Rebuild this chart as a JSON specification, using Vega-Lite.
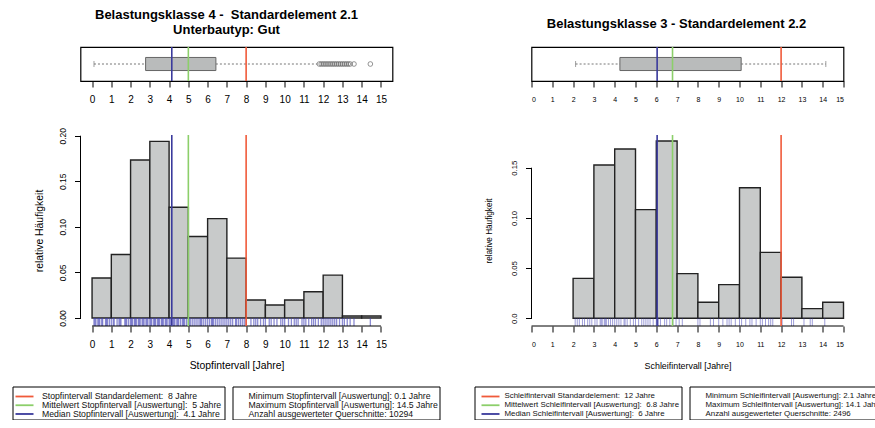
{
  "$schema": "https://vega.github.io/schema/vega-lite/v6.json",
  "background": "white",
  "padding": {"left": 11.5, "top": 8, "right": 0, "bottom": 0},
  "config": {
    "font": "Liberation Sans",
    "view": {"stroke": null},
    "axis": {"domain": false, "grid": false, "labelOverlap": false, "tickColor": "#000", "labelColor": "#000", "titleColor": "#000", "titleFontWeight": "normal", "labelFont": "Liberation Sans", "titleFont": "Liberation Sans", "tickWidth": 1},
    "axisX": {"tickCount": 16},
    "title": {"font": "Liberation Sans", "fontWeight": "bold", "color": "#000"}
  },
  "datasets": {
    "leftHist": [
      {"b0": 0, "b1": 1, "freq": 0.0438}, {"b0": 1, "b1": 2, "freq": 0.0697}, {"b0": 2, "b1": 3, "freq": 0.1734},
      {"b0": 3, "b1": 4, "freq": 0.1938}, {"b0": 4, "b1": 5, "freq": 0.1215}, {"b0": 5, "b1": 6, "freq": 0.0894},
      {"b0": 6, "b1": 7, "freq": 0.109}, {"b0": 7, "b1": 8, "freq": 0.0657}, {"b0": 8, "b1": 9, "freq": 0.0197},
      {"b0": 9, "b1": 10, "freq": 0.0142}, {"b0": 10, "b1": 11, "freq": 0.0197}, {"b0": 11, "b1": 12, "freq": 0.0288},
      {"b0": 12, "b1": 13, "freq": 0.047}, {"b0": 13, "b1": 14, "freq": 0.0022}, {"b0": 14, "b1": 15, "freq": 0.0022}
    ],
    "rightHist": [
      {"b0": 2, "b1": 3, "freq": 0.0398}, {"b0": 3, "b1": 4, "freq": 0.1527}, {"b0": 4, "b1": 5, "freq": 0.1686},
      {"b0": 5, "b1": 6, "freq": 0.1082}, {"b0": 6, "b1": 7, "freq": 0.1766}, {"b0": 7, "b1": 8, "freq": 0.0445},
      {"b0": 8, "b1": 9, "freq": 0.0159}, {"b0": 9, "b1": 10, "freq": 0.0335}, {"b0": 10, "b1": 11, "freq": 0.130},
      {"b0": 11, "b1": 12, "freq": 0.0657}, {"b0": 12, "b1": 13, "freq": 0.0408}, {"b0": 13, "b1": 14, "freq": 0.0096},
      {"b0": 14, "b1": 15, "freq": 0.0159}
    ],
    "leftRug": [
      {"v":0.1},{"v":0.15},{"v":0.2},{"v":0.3},{"v":0.35},{"v":0.4},{"v":0.5},{"v":0.55},{"v":0.7},{"v":0.75},{"v":0.8},{"v":0.9},{"v":1.0},{"v":1.1},{"v":1.15},{"v":1.3},{"v":1.4},{"v":1.45},{"v":1.5},{"v":1.7},{"v":1.75},{"v":1.8},{"v":1.9},{"v":2.0},{"v":2.05},{"v":2.1},{"v":2.2},{"v":2.25},{"v":2.3},{"v":2.4},{"v":2.45},{"v":2.5},{"v":2.6},{"v":2.65},{"v":2.7},{"v":2.8},{"v":2.85},{"v":2.9},{"v":3.0},{"v":3.05},{"v":3.1},{"v":3.2},{"v":3.25},{"v":3.3},{"v":3.4},{"v":3.45},{"v":3.5},{"v":3.6},{"v":3.65},{"v":3.7},{"v":3.8},{"v":3.85},{"v":3.9},{"v":4.0},{"v":4.05},{"v":4.1},{"v":4.2},{"v":4.25},{"v":4.3},{"v":4.4},{"v":4.45},{"v":4.5},{"v":4.6},{"v":4.7},{"v":4.75},{"v":4.8},{"v":4.9},{"v":5.0},{"v":5.05},{"v":5.1},{"v":5.2},{"v":5.3},{"v":5.4},{"v":5.5},{"v":5.6},{"v":5.65},{"v":5.7},{"v":5.8},{"v":5.9},{"v":6.0},{"v":6.1},{"v":6.2},{"v":6.25},{"v":6.3},{"v":6.4},{"v":6.5},{"v":6.6},{"v":6.7},{"v":6.8},{"v":6.9},{"v":7.0},{"v":7.1},{"v":7.2},{"v":7.3},{"v":7.45},{"v":7.5},{"v":7.6},{"v":7.7},{"v":7.8},{"v":7.9},{"v":8.0},{"v":8.25},{"v":8.4},{"v":8.5},{"v":8.6},{"v":8.75},{"v":8.9},{"v":9.0},{"v":9.2},{"v":9.3},{"v":9.45},{"v":9.6},{"v":9.8},{"v":9.9},{"v":10.0},{"v":10.2},{"v":10.35},{"v":10.5},{"v":10.6},{"v":10.7},{"v":10.9},{"v":11.0},{"v":11.1},{"v":11.25},{"v":11.4},{"v":11.5},{"v":11.6},{"v":11.75},{"v":11.9},{"v":12.0},{"v":12.1},{"v":12.2},{"v":12.3},{"v":12.4},{"v":12.5},{"v":12.6},{"v":12.7},{"v":12.85},{"v":13.0},{"v":13.1},{"v":13.25},{"v":13.4},{"v":13.6},{"v":14.45}
    ],
    "rightRug": [
      {"v":2.1},{"v":2.2},{"v":2.3},{"v":2.45},{"v":2.55},{"v":2.7},{"v":2.8},{"v":2.9},{"v":3.05},{"v":3.15},{"v":3.3},{"v":3.35},{"v":3.4},{"v":3.5},{"v":3.55},{"v":3.6},{"v":3.7},{"v":3.8},{"v":3.9},{"v":4.0},{"v":4.1},{"v":4.2},{"v":4.3},{"v":4.45},{"v":4.5},{"v":4.6},{"v":4.75},{"v":4.9},{"v":5.0},{"v":5.15},{"v":5.3},{"v":5.4},{"v":5.5},{"v":5.6},{"v":5.7},{"v":5.85},{"v":6.0},{"v":6.1},{"v":6.2},{"v":6.4},{"v":6.5},{"v":6.65},{"v":6.8},{"v":6.95},{"v":7.1},{"v":7.25},{"v":8.0},{"v":8.1},{"v":8.6},{"v":8.75},{"v":9.0},{"v":9.2},{"v":9.4},{"v":9.5},{"v":9.6},{"v":9.8},{"v":10.0},{"v":10.1},{"v":10.3},{"v":10.5},{"v":10.6},{"v":10.8},{"v":11.0},{"v":11.1},{"v":11.25},{"v":11.4},{"v":11.5},{"v":11.6},{"v":12.05},{"v":12.5},{"v":12.6},{"v":13.1},{"v":13.4},{"v":13.5},{"v":14.1}
    ],
    "leftLines": [{"key": "std", "v": 8}, {"key": "mean", "v": 5}, {"key": "median", "v": 4.14}],
    "rightLines": [{"key": "std", "v": 12}, {"key": "mean", "v": 6.78}, {"key": "median", "v": 6.04}],
    "leftBox": [{"g": "a", "lo": 0.1, "q1": 2.78, "q3": 6.43, "hi": 11.7}],
    "rightBox": [{"g": "a", "lo": 2.12, "q1": 4.25, "q3": 10.08, "hi": 14.15}],
    "leftOut": [
      {"g":"a","v":11.8},{"g":"a","v":11.9},{"g":"a","v":12.0},{"g":"a","v":12.1},{"g":"a","v":12.2},{"g":"a","v":12.3},{"g":"a","v":12.4},{"g":"a","v":12.5},{"g":"a","v":12.6},{"g":"a","v":12.7},{"g":"a","v":12.8},{"g":"a","v":12.9},{"g":"a","v":13.0},{"g":"a","v":13.1},{"g":"a","v":13.2},{"g":"a","v":13.3},{"g":"a","v":13.4},{"g":"a","v":13.6},{"g":"a","v":14.45}
    ],
    "legL1": [
      {"row": 1, "key": "std", "label": "Stopfintervall Standardelement: \u00a08 Jahre"},
      {"row": 2, "key": "mean", "label": "Mittelwert Stopfintervall [Auswertung]: \u00a05 Jahre"},
      {"row": 3, "key": "median", "label": "Median Stopfintervall [Auswertung]: \u00a04.1 Jahre"}
    ],
    "legL2": [
      {"row": 1, "label": "Minimum Stopfintervall [Auswertung]: 0.1 Jahre"},
      {"row": 2, "label": "Maximum Stopfintervall [Auswertung]: 14.5 Jahre"},
      {"row": 3, "label": "Anzahl ausgewerteter Querschnitte: 10294"}
    ],
    "legR1": [
      {"row": 1, "key": "std", "label": "Schleifintervall Standardelement: \u00a012 Jahre"},
      {"row": 2, "key": "mean", "label": "Mittelwert Schleifintervall [Auswertung]: \u00a06.8 Jahre"},
      {"row": 3, "key": "median", "label": "Median Schleifintervall [Auswertung]: \u00a06 Jahre"}
    ],
    "legR2": [
      {"row": 1, "label": "Minimum Schleifintervall [Auswertung]: 2.1 Jahre"},
      {"row": 2, "label": "Maximum Schleifintervall [Auswertung]: 14.1 Jahre"},
      {"row": 3, "label": "Anzahl ausgewerteter Querschnitte: 2496"}
    ],
    "one": [{}]
  },
  "spacing": 14.5,
  "vconcat": [
    {
      "spacing": 10,
      "hconcat": [
        {"width": 10.75, "height": 10, "data": {"name": "one"}, "mark": {"type": "point", "opacity": 0}, "encoding": {}},
        {
          "spacing": 91,
          "hconcat": [
            {
              "bounds": "flush",
              "spacing": 54,
              "vconcat": [
                {
                  "width": 312, "height": 34,
                  "view": {"stroke": "#000", "strokeWidth": 1.2},
                  "title": {"text": ["Belastungsklasse 4 - \u00a0Standardelement 2.1", "Unterbautyp: Gut"], "fontSize": 13, "lineHeight": 14.5, "anchor": "middle", "frame": "group", "baseline": "alphabetic", "offset": -0.7, "dx": -10},
                  "layer": [
                    {"data": {"name": "leftBox"}, "mark": {"type": "rule", "strokeDash": [2, 2], "color": "#777", "strokeWidth": 1},
                     "encoding": {
                       "x": {"field": "lo", "type": "quantitative", "scale": {"domain": [-0.6, 15.6], "nice": false, "zero": false},
                             "axis": {"values": [0,1,2,3,4,5,6,7,8,9,10,11,12,13,14,15], "title": null, "labelFontSize": 10, "tickSize": 6, "labelPadding": 12, "labelBaseline": "middle"}},
                       "x2": {"field": "q1"},
                       "y": {"field": "g", "type": "nominal", "scale": {"paddingOuter": 0.8, "paddingInner": 0}, "axis": null}}},
                    {"data": {"name": "leftBox"}, "mark": {"type": "rule", "strokeDash": [2, 2], "color": "#777", "strokeWidth": 1},
                     "encoding": {"x": {"field": "q3", "type": "quantitative"}, "x2": {"field": "hi"}, "y": {"field": "g", "type": "nominal"}}},
                    {"data": {"name": "leftBox"}, "mark": {"type": "tick", "orient": "vertical", "size": 6, "thickness": 1, "color": "#777"},
                     "encoding": {"x": {"field": "lo", "type": "quantitative"}, "y": {"field": "g", "type": "nominal"}}},
                    {"data": {"name": "leftBox"}, "mark": {"type": "rect", "fill": "#b9bbbb", "stroke": "#666", "strokeWidth": 1},
                     "encoding": {"x": {"field": "q1", "type": "quantitative"}, "x2": {"field": "q3"}, "y": {"field": "g", "type": "nominal"}}},
                    {"data": {"name": "leftOut"}, "mark": {"type": "point", "filled": false, "size": 22, "color": "#444", "strokeWidth": 0.8},
                     "encoding": {"x": {"field": "v", "type": "quantitative"}, "y": {"field": "g", "type": "nominal"}}},
                    {"data": {"name": "leftLines"}, "mark": {"type": "rule", "strokeWidth": 1.6},
                     "encoding": {"x": {"field": "v", "type": "quantitative"},
                                  "color": {"field": "key", "type": "nominal", "scale": {"domain": ["std", "mean", "median"], "range": ["#f05a3a", "#8ccf6a", "#3a3a9c"]}, "legend": null}}}
                  ]
                },
                {
                  "width": 312, "height": 191,
                  "view": {"stroke": null},
                  "layer": [
                    {"data": {"name": "leftHist"}, "mark": {"type": "rect", "fill": "#c8caca", "stroke": "#222", "strokeWidth": 1.4},
                     "encoding": {
                       "x": {"field": "b0", "type": "quantitative", "scale": {"domain": [-0.6, 15.6], "nice": false, "zero": false},
                             "axis": {"values": [0,1,2,3,4,5,6,7,8,9,10,11,12,13,14,15], "title": "Stopfintervall [Jahre]", "labelFontSize": 10, "tickSize": 6, "labelPadding": 12, "labelBaseline": "middle", "titleFontSize": 10.4, "titlePadding": 11}},
                       "x2": {"field": "b1"},
                       "y": {"field": "freq", "type": "quantitative", "scale": {"domain": [-0.0088, 0.2008], "nice": false, "zero": false},
                             "axis": {"values": [0, 0.05, 0.1, 0.15, 0.2], "format": ".2f", "title": "relative Häufigkeit", "labelAngle": -90, "labelAlign": "center", "labelBaseline": "middle", "labelFontSize": 8.5, "tickSize": 6, "labelPadding": 12, "titleFontSize": 10.4, "titlePadding": 14.5}},
                       "y2": {"datum": 0}}},
                    {"data": {"name": "leftRug"}, "mark": {"type": "rule", "color": "#3f3fb5", "opacity": 0.6, "strokeWidth": 1.3},
                     "encoding": {"x": {"field": "v", "type": "quantitative"}, "y": {"datum": -0.0088}, "y2": {"datum": 0}}},
                    {"data": {"name": "one"}, "mark": {"type": "rule", "color": "#000", "strokeWidth": 1},
                     "encoding": {"x": {"datum": 0}, "x2": {"datum": 15}, "y": {"datum": -0.0088}}},
                    {"data": {"name": "one"}, "mark": {"type": "rule", "color": "#000", "strokeWidth": 1},
                     "encoding": {"x": {"datum": -0.6}, "y": {"datum": 0}, "y2": {"datum": 0.2}}},
                    {"data": {"name": "leftLines"}, "mark": {"type": "rule", "strokeWidth": 1.6},
                     "encoding": {"x": {"field": "v", "type": "quantitative"},
                                  "color": {"field": "key", "type": "nominal", "scale": {"domain": ["std", "mean", "median"], "range": ["#f05a3a", "#8ccf6a", "#3a3a9c"]}, "legend": null}}}
                  ]
                }
              ]
            },
            {
              "bounds": "flush",
              "spacing": 54,
              "vconcat": [
                {
                  "width": 312, "height": 34,
                  "view": {"stroke": "#000", "strokeWidth": 1.2},
                  "title": {"text": "Belastungsklasse 3 - Standardelement 2.2", "fontSize": 13, "anchor": "middle", "frame": "group", "baseline": "alphabetic", "offset": 5, "dx": -11},
                  "layer": [
                    {"data": {"name": "rightBox"}, "mark": {"type": "rule", "strokeDash": [2, 2], "color": "#777", "strokeWidth": 1},
                     "encoding": {
                       "x": {"field": "lo", "type": "quantitative", "scale": {"domain": [0, 15], "nice": false, "zero": false},
                             "axis": {"values": [0,1,2,3,4,5,6,7,8,9,10,11,12,13,14,15], "title": null, "labelFontSize": 7, "tickSize": 6, "labelPadding": 12, "labelBaseline": "middle"}},
                       "x2": {"field": "q1"},
                       "y": {"field": "g", "type": "nominal", "scale": {"paddingOuter": 0.8, "paddingInner": 0}, "axis": null}}},
                    {"data": {"name": "rightBox"}, "mark": {"type": "rule", "strokeDash": [2, 2], "color": "#777", "strokeWidth": 1},
                     "encoding": {"x": {"field": "q3", "type": "quantitative"}, "x2": {"field": "hi"}, "y": {"field": "g", "type": "nominal"}}},
                    {"data": {"name": "rightBox"}, "mark": {"type": "tick", "orient": "vertical", "size": 6, "thickness": 1, "color": "#777"},
                     "encoding": {"x": {"field": "lo", "type": "quantitative"}, "y": {"field": "g", "type": "nominal"}}},
                    {"data": {"name": "rightBox"}, "mark": {"type": "tick", "orient": "vertical", "size": 6, "thickness": 1, "color": "#777"},
                     "encoding": {"x": {"field": "hi", "type": "quantitative"}, "y": {"field": "g", "type": "nominal"}}},
                    {"data": {"name": "rightBox"}, "mark": {"type": "rect", "fill": "#b9bbbb", "stroke": "#666", "strokeWidth": 1},
                     "encoding": {"x": {"field": "q1", "type": "quantitative"}, "x2": {"field": "q3"}, "y": {"field": "g", "type": "nominal"}}},
                    {"data": {"name": "rightLines"}, "mark": {"type": "rule", "strokeWidth": 1.6},
                     "encoding": {"x": {"field": "v", "type": "quantitative"},
                                  "color": {"field": "key", "type": "nominal", "scale": {"domain": ["std", "mean", "median"], "range": ["#f05a3a", "#8ccf6a", "#3a3a9c"]}, "legend": null}}}
                  ]
                },
                {
                  "width": 312, "height": 191,
                  "view": {"stroke": null},
                  "layer": [
                    {"data": {"name": "rightHist"}, "mark": {"type": "rect", "fill": "#c8caca", "stroke": "#222", "strokeWidth": 1.4},
                     "encoding": {
                       "x": {"field": "b0", "type": "quantitative", "scale": {"domain": [0, 15], "nice": false, "zero": false},
                             "axis": {"values": [0,1,2,3,4,5,6,7,8,9,10,11,12,13,14,15], "title": "Schleifintervall [Jahre]", "labelFontSize": 7, "tickSize": 6, "labelPadding": 12, "labelBaseline": "middle", "titleFontSize": 8.9, "titlePadding": 14.8}},
                       "x2": {"field": "b1"},
                       "y": {"field": "freq", "type": "quantitative", "scale": {"domain": [-0.0077, 0.1826], "nice": false, "zero": false},
                             "axis": {"values": [0, 0.05, 0.1, 0.15], "labelExpr": "datum.value == 0 ? '0.0' : format(datum.value, '.2f')", "title": "relative Häufigkeit", "labelAngle": -90, "labelAlign": "center", "labelBaseline": "middle", "labelFontSize": 7.7, "tickSize": 6, "labelPadding": 11, "titleFontSize": 8.2, "titlePadding": 17}},
                       "y2": {"datum": 0}}},
                    {"data": {"name": "rightRug"}, "mark": {"type": "rule", "color": "#3f3fb5", "opacity": 0.5, "strokeWidth": 1},
                     "encoding": {"x": {"field": "v", "type": "quantitative"}, "y": {"datum": -0.0077}, "y2": {"datum": 0}}},
                    {"data": {"name": "one"}, "mark": {"type": "rule", "color": "#000", "strokeWidth": 1},
                     "encoding": {"x": {"datum": 0}, "x2": {"datum": 15}, "y": {"datum": -0.0077}}},
                    {"data": {"name": "one"}, "mark": {"type": "rule", "color": "#000", "strokeWidth": 1},
                     "encoding": {"x": {"datum": 0}, "y": {"datum": 0}, "y2": {"datum": 0.15}}},
                    {"data": {"name": "rightLines"}, "mark": {"type": "rule", "strokeWidth": 1.6},
                     "encoding": {"x": {"field": "v", "type": "quantitative"},
                                  "color": {"field": "key", "type": "nominal", "scale": {"domain": ["std", "mean", "median"], "range": ["#f05a3a", "#8ccf6a", "#3a3a9c"]}, "legend": null}}}
                  ]
                }
              ]
            }
          ]
        }
      ]
    },
    {
      "spacing": 33,
      "hconcat": [
        {
          "bounds": "flush",
          "spacing": 8,
          "hconcat": [
            {
              "width": 212, "height": 33,
              "view": {"stroke": "#000", "strokeWidth": 1},
              "data": {"name": "legL1"},
              "layer": [
                {"mark": {"type": "rule", "strokeWidth": 1.8},
                 "encoding": {
                   "x": {"datum": 3, "type": "quantitative", "scale": {"domain": [0, 212], "nice": false, "zero": false}, "axis": null},
                   "x2": {"datum": 21},
                   "y": {"field": "row", "type": "quantitative", "scale": {"domain": [-0.143, 3.63], "reverse": true, "nice": false, "zero": false}, "axis": null},
                   "color": {"field": "key", "type": "nominal", "scale": {"domain": ["std", "mean", "median"], "range": ["#f05a3a", "#8ccf6a", "#3a3a9c"]}, "legend": null}}},
                {"mark": {"type": "text", "align": "left", "baseline": "middle", "fontSize": 8.7, "color": "#111"},
                 "encoding": {"x": {"datum": 29.5}, "y": {"field": "row", "type": "quantitative"}, "text": {"field": "label"}}}
              ]
            },
            {
              "width": 207, "height": 33,
              "view": {"stroke": "#000", "strokeWidth": 1},
              "data": {"name": "legL2"},
              "mark": {"type": "text", "align": "left", "baseline": "middle", "fontSize": 8.7, "color": "#111"},
              "encoding": {
                "x": {"datum": 16, "type": "quantitative", "scale": {"domain": [0, 207], "nice": false, "zero": false}, "axis": null},
                "y": {"field": "row", "type": "quantitative", "scale": {"domain": [-0.143, 3.63], "reverse": true, "nice": false, "zero": false}, "axis": null},
                "text": {"field": "label"}}
            }
          ]
        },
        {
          "bounds": "flush",
          "spacing": 8,
          "hconcat": [
            {
              "width": 207, "height": 33,
              "view": {"stroke": "#000", "strokeWidth": 1},
              "data": {"name": "legR1"},
              "layer": [
                {"mark": {"type": "rule", "strokeWidth": 1.8},
                 "encoding": {
                   "x": {"datum": 7, "type": "quantitative", "scale": {"domain": [0, 207], "nice": false, "zero": false}, "axis": null},
                   "x2": {"datum": 25},
                   "y": {"field": "row", "type": "quantitative", "scale": {"domain": [-0.143, 3.63], "reverse": true, "nice": false, "zero": false}, "axis": null},
                   "color": {"field": "key", "type": "nominal", "scale": {"domain": ["std", "mean", "median"], "range": ["#f05a3a", "#8ccf6a", "#3a3a9c"]}, "legend": null}}},
                {"mark": {"type": "text", "align": "left", "baseline": "middle", "fontSize": 7.9, "color": "#111"},
                 "encoding": {"x": {"datum": 30}, "y": {"field": "row", "type": "quantitative"}, "text": {"field": "label"}}}
              ]
            },
            {
              "width": 200, "height": 33,
              "view": {"stroke": "#000", "strokeWidth": 1},
              "data": {"name": "legR2"},
              "mark": {"type": "text", "align": "left", "baseline": "middle", "fontSize": 7.9, "color": "#111"},
              "encoding": {
                "x": {"datum": 16, "type": "quantitative", "scale": {"domain": [0, 200], "nice": false, "zero": false}, "axis": null},
                "y": {"field": "row", "type": "quantitative", "scale": {"domain": [-0.143, 3.63], "reverse": true, "nice": false, "zero": false}, "axis": null},
                "text": {"field": "label"}}
            }
          ]
        }
      ]
    }
  ]
}
